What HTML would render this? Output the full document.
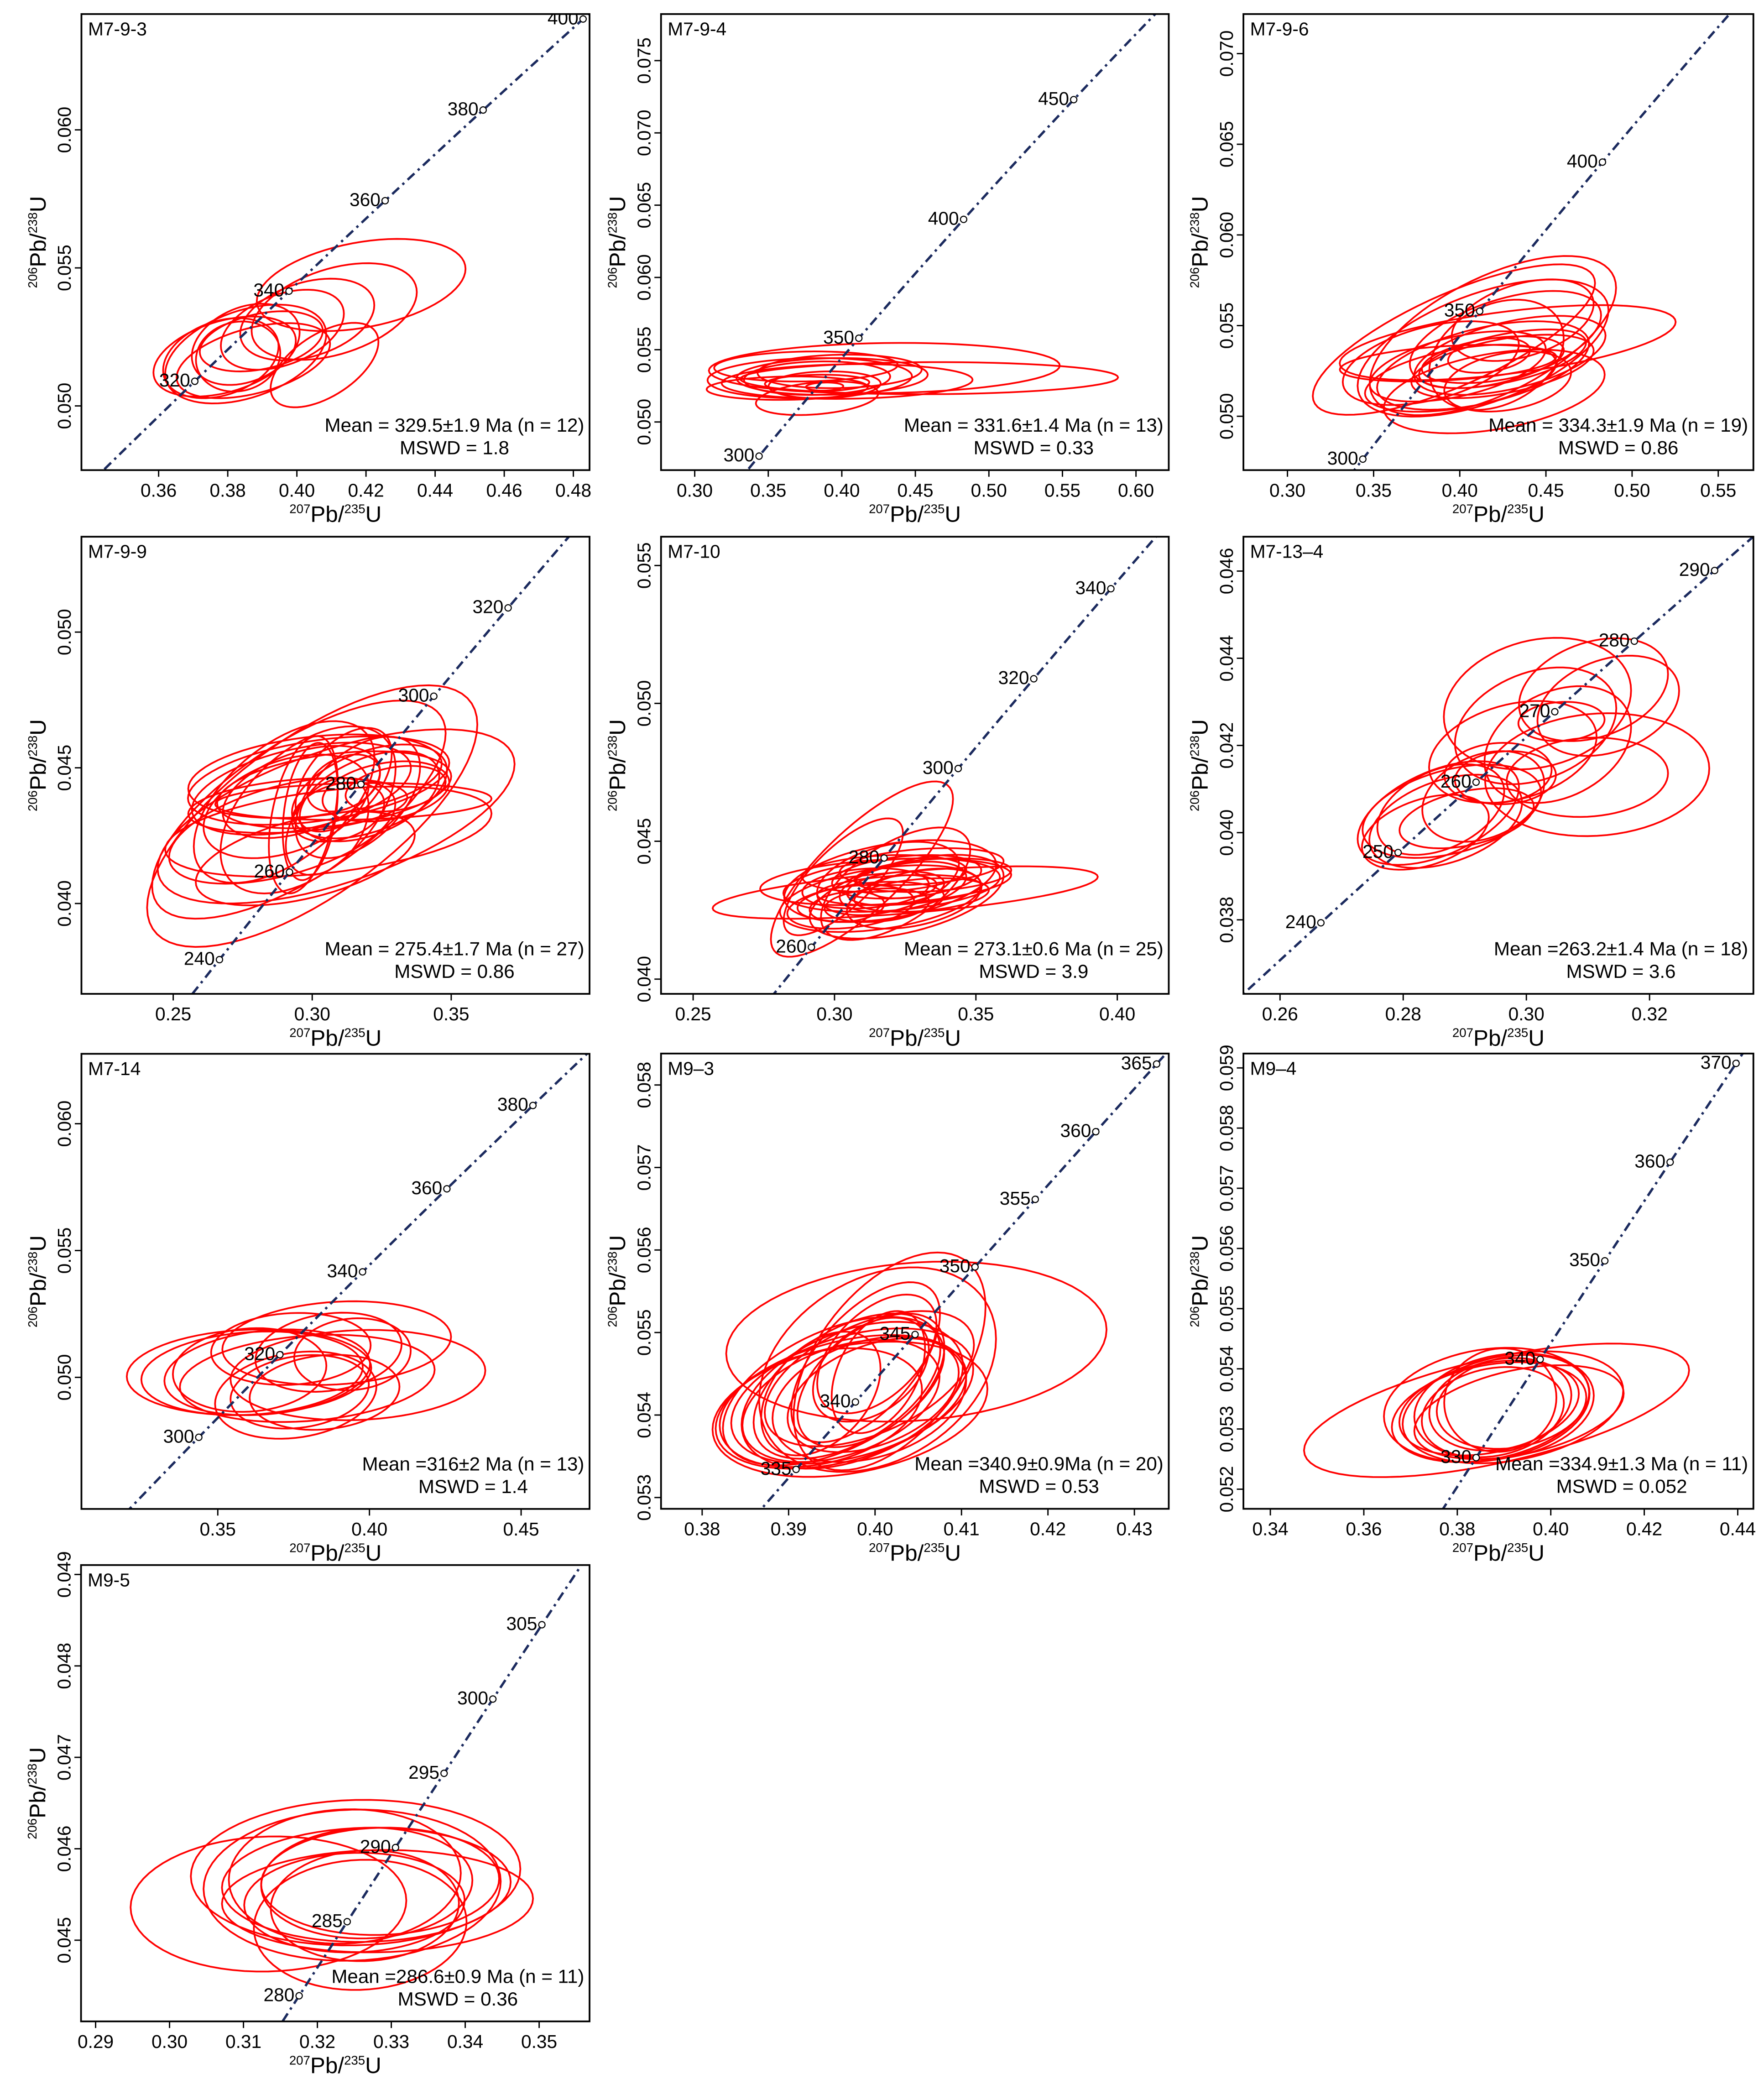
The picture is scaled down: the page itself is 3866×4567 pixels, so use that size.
<!DOCTYPE html>
<html><head><meta charset="utf-8"><title>Concordia diagrams</title>
<style>
html,body{margin:0;padding:0;background:#fff;width:3866px;height:4567px;overflow:hidden;}
svg{display:block;font-family:"Liberation Sans",Arial,sans-serif;}
</style></head>
<body>
<svg id="fig" xmlns="http://www.w3.org/2000/svg" width="3866" height="4567" viewBox="0 0 1330 1571" preserveAspectRatio="none">
<rect x="0" y="0" width="1330" height="1571" fill="#fff"/>
</svg>
<script>
// ---------- data: panel 1 (M7-9-3) ----------
const ages1=[320,340,360,380,400];
const xticks1=[0.36,0.38,0.40,0.42,0.44,0.46,0.48];
const yticks1=[0.050,0.055,0.060];
const ell1_x=[0.4186,0.4108,0.4030,0.4080,0.3958,0.3852,0.3852,0.3791,0.3780,0.3830,0.3897,0.3874];
const ell1_y=[0.05438,0.05342,0.05313,0.05148,0.05276,0.05223,0.05188,0.05179,0.05173,0.05179,0.05234,0.05164];
const ell1_sx=[0.0302,0.0239,0.0194,0.0156,0.0178,0.0156,0.0233,0.0206,0.0167,0.0122,0.0178,0.0222];
const ell1_sy=[0.00167,0.00175,0.00148,0.00153,0.00145,0.00147,0.00179,0.00145,0.00145,0.00127,0.00109,0.00136];
const ell1_r=[0.35,0.4,0.35,0.55,0.4,0.3,0.4,0.4,0.3,0.1,0.35,0.45];
// ---------- panel 2 (M7-9-4) ----------
const ages2=[300,350,400,450];
const xticks2=[0.30,0.35,0.40,0.45,0.50,0.55,0.60];
const yticks2=[0.050,0.055,0.060,0.065,0.070,0.075];
const ell2_x=[0.4594,0.4289,0.3782,0.3756,0.4036,0.3934,0.3832,0.3832,0.3883,0.3883,0.3832,0.3629,0.3985];
const ell2_y=[0.05303,0.05373,0.05303,0.05384,0.05280,0.05315,0.05164,0.05303,0.05257,0.05245,0.05269,0.05234,0.05350];
const ell2_sx=[0.1284,0.1193,0.0695,0.0624,0.0853,0.0650,0.0416,0.0497,0.0381,0.0127,0.0355,0.0548,0.0558];
const ell2_sy=[0.00111,0.00174,0.00139,0.00104,0.00120,0.00127,0.00116,0.00116,0.00093,0.00028,0.00058,0.00081,0.00116];
const ell2_r=[0.05,0.1,0.1,0.1,0.1,0.1,0.3,0.1,0.1,0.1,0.1,0.1,0.1];
// ---------- panel 3 (M7-9-6) ----------
const ages3=[300,350,400];
const xticks3=[0.30,0.35,0.40,0.45,0.50,0.55];
const yticks3=[0.050,0.055,0.060,0.065,0.070];
const ell3_x=[0.3966,0.4192,0.4278,0.4135,0.4200,0.4265,0.4192,0.4170,0.4135,0.3832,0.4291,0.4213,0.4005,0.4248,0.3932,0.4248,0.4278,0.3988,0.4365];
const ell3_y=[0.05423,0.05445,0.05406,0.05376,0.05137,0.05423,0.05312,0.05336,0.05280,0.05293,0.05336,0.05339,0.05210,0.05317,0.05293,0.05275,0.05192,0.05275,0.05530];
const ell3_sx=[0.0819,0.0715,0.0975,0.0728,0.0641,0.0555,0.0412,0.0238,0.0615,0.0511,0.0555,0.0390,0.0555,0.0485,0.0628,0.0529,0.0368,0.0511,0.0412];
const ell3_sy=[0.00415,0.00439,0.00207,0.00378,0.00231,0.00268,0.00129,0.00096,0.00244,0.00231,0.00218,0.00304,0.00185,0.00162,0.00101,0.00175,0.00166,0.00194,0.00225];
const ell3_r=[0.75,0.6,0.55,0.55,0.4,0.5,0.4,0.3,0.5,0.45,0.5,0.3,0.45,0.55,0.35,0.5,0.3,0.5,0.4];
// ---------- panel 4 (M7-9-9) ----------
const ages4=[240,260,280,300,320];
const xticks4=[0.25,0.30,0.35];
const yticks4=[0.040,0.045,0.050];
const ell4_x=[0.3000,0.2952,0.3086,0.3058,0.3023,0.2899,0.2975,0.2985,0.2968,0.2993,0.2961,0.3010,0.3079,0.3206,0.3206,0.3113,0.3113,0.3148,0.2948,0.3164,0.2906,0.2961,0.3093,0.3300,0.3265,0.3054,0.2892];
const ell4_y=[0.04322,0.04346,0.04321,0.04265,0.04453,0.04374,0.04166,0.04345,0.04327,0.04339,0.04423,0.04469,0.04419,0.04413,0.04395,0.04456,0.04444,0.04376,0.04361,0.04391,0.04358,0.04411,0.04337,0.04423,0.04413,0.04284,0.04268];
const ell4_sx=[0.0594,0.0528,0.0642,0.0587,0.0470,0.0325,0.0394,0.0315,0.0124,0.0099,0.0394,0.0456,0.0421,0.0279,0.0251,0.0173,0.0131,0.0497,0.0394,0.0224,0.0297,0.0283,0.0166,0.0180,0.0228,0.0149,0.0407];
const ell4_sy=[0.00482,0.00402,0.00321,0.00166,0.00163,0.00298,0.00173,0.00308,0.00290,0.00253,0.00170,0.00154,0.00142,0.00173,0.00166,0.00191,0.00105,0.00068,0.00101,0.00224,0.00191,0.00170,0.00109,0.00084,0.00111,0.00179,0.00195];
const ell4_r=[0.7,0.7,0.6,0.4,0.4,0.55,0.5,0.5,0.4,0.3,0.45,0.3,0.35,0.45,0.45,0.5,0.35,0.15,0.3,0.5,0.4,0.45,0.3,0.3,0.3,0.4,0.5];
// ---------- panel 5 (M7-10) ----------
const ages5=[260,280,300,320,340];
const xticks5=[0.25,0.30,0.35,0.40];
const yticks5=[0.040,0.045,0.050,0.055];
const ell5_x=[0.3097,0.3250,0.3031,0.3181,0.3216,0.3197,0.3255,0.3163,0.3189,0.3202,0.3128,0.3255,0.3110,0.3216,0.3308,0.3229,0.3057,0.3282,0.3150,0.3348,0.3176,0.3242,0.3044,0.3242,0.3308];
const ell5_y=[0.04399,0.04314,0.04371,0.04353,0.04346,0.04356,0.04299,0.04292,0.04365,0.04341,0.04280,0.04371,0.04329,0.04329,0.04408,0.04323,0.04262,0.04292,0.04268,0.04377,0.04383,0.04335,0.04262,0.04335,0.04305];
const ell5_sx=[0.0322,0.0681,0.0211,0.0444,0.0264,0.0375,0.0343,0.0356,0.0251,0.0383,0.0259,0.0264,0.0224,0.0172,0.0290,0.0290,0.0224,0.0238,0.0185,0.0277,0.0290,0.0119,0.0132,0.0224,0.0238];
const ell5_sy=[0.00318,0.00095,0.00212,0.00085,0.00204,0.00148,0.00152,0.00121,0.00133,0.00097,0.00073,0.00079,0.00073,0.00061,0.00067,0.00055,0.00079,0.00109,0.00061,0.00061,0.00067,0.00042,0.00055,0.00091,0.00061];
const ell5_r=[0.8,0.6,0.75,0.3,0.6,0.4,0.5,0.4,0.4,0.3,0.3,0.3,0.2,0.3,0.3,0.3,0.3,0.4,0.2,0.3,0.2,0.2,0.2,0.4,0.3];
// ---------- panel 6 (M7-13-4) ----------
const ages6=[240,250,260,270,280,290];
const xticks6=[0.26,0.28,0.30,0.32];
const yticks6=[0.038,0.040,0.042,0.044,0.046];
const ell6_x=[0.3018,0.3109,0.3133,0.3015,0.3051,0.3057,0.3115,0.3099,0.2978,0.2954,0.2930,0.2857,0.2879,0.2869,0.2861,0.2903,0.2836,0.2966];
const ell6_y=[0.04296,0.04328,0.04291,0.04245,0.04202,0.04255,0.04133,0.04127,0.04185,0.04137,0.04083,0.04045,0.04049,0.04026,0.04053,0.04033,0.04001,0.04126];
const ell6_sx=[0.0152,0.0121,0.0115,0.0131,0.0119,0.0070,0.0182,0.0131,0.0136,0.0087,0.0099,0.0131,0.0145,0.0124,0.0103,0.0109,0.0103,0.0082];
const ell6_sy=[0.00151,0.00118,0.00115,0.00134,0.00134,0.00045,0.00141,0.00091,0.00117,0.00069,0.00104,0.00119,0.00107,0.00107,0.00104,0.00069,0.00086,0.00061];
const ell6_r=[0.2,0.3,0.3,0.3,0.3,0.1,0.1,0.1,0.3,0.1,0.3,0.5,0.4,0.4,0.4,0.4,0.4,0.1];
// ---------- panel 7 (M7-14) ----------
const ages7=[300,320,340,360,380];
const xticks7=[0.35,0.40,0.45];
const yticks7=[0.050,0.055,0.060];
const ell7_x=[0.3603,0.3613,0.3663,0.3741,0.3892,0.3795,0.3962,0.3865,0.3944,0.3757,0.3770,0.3852,0.3605];
const ell7_y=[0.05020,0.05016,0.05020,0.05112,0.05135,0.04996,0.05009,0.05099,0.05091,0.04930,0.04943,0.04941,0.05029];
const ell7_sx=[0.0403,0.0365,0.0339,0.0263,0.0377,0.0420,0.0420,0.0241,0.0192,0.0266,0.0228,0.0247,0.0253];
const ell7_sy=[0.00169,0.00165,0.00169,0.00142,0.00165,0.00172,0.00178,0.00156,0.00142,0.00172,0.00145,0.00148,0.00165];
const ell7_r=[0.1,0.15,0.2,0.1,0.15,0.2,0.1,0.2,0.1,0.2,0.2,0.15,0.1];
// ---------- panel 8 (M9-3) ----------
const ages8=[335,340,345,350,355,360,365];
const xticks8=[0.38,0.39,0.40,0.41,0.42,0.43];
const yticks8=[0.053,0.054,0.055,0.056,0.057,0.058];
const ell8_x=[0.40478,0.40029,0.40168,0.39710,0.39606,0.39520,0.39675,0.39891,0.40021,0.39373,0.39736,0.39736,0.39373,0.39934,0.40038,0.39934,0.39978,0.39952,0.39606,0.39952];
const ell8_y=[0.05489,0.05455,0.05465,0.05407,0.05416,0.05429,0.05435,0.05464,0.05474,0.05426,0.05423,0.05424,0.05409,0.05419,0.05452,0.05444,0.05424,0.05442,0.05417,0.05455];
const ell8_sx=[0.0220,0.0137,0.0111,0.0159,0.0145,0.0128,0.0108,0.0086,0.0069,0.0069,0.0140,0.0128,0.0117,0.0112,0.0054,0.0121,0.0099,0.0085,0.0114,0.0067];
const ell8_sy=[0.00097,0.00124,0.00132,0.00082,0.00081,0.00090,0.00088,0.00097,0.00072,0.00075,0.00082,0.00089,0.00072,0.00076,0.00074,0.00082,0.00069,0.00081,0.00074,0.00063];
const ell8_r=[0.15,0.3,0.5,0.3,0.4,0.5,0.5,0.6,0.5,0.4,0.4,0.4,0.3,0.3,0.4,0.5,0.4,0.5,0.4,0.4];
// ---------- panel 9 (M9-4) ----------
const ages9=[330,340,350,360,370];
const xticks9=[0.34,0.36,0.38,0.40,0.42,0.44];
const yticks9=[0.052,0.053,0.054,0.055,0.056,0.057,0.058,0.059];
const ell9_x=[0.3884,0.3863,0.3919,0.3900,0.3868,0.3892,0.3932,0.3892,0.3868,0.3919,0.3876];
const ell9_y=[0.05331,0.05340,0.05336,0.05338,0.05328,0.05341,0.05328,0.05348,0.05335,0.05345,0.05328];
const ell9_sx=[0.0412,0.0220,0.0236,0.0192,0.0208,0.0152,0.0224,0.0120,0.0192,0.0163,0.0152];
const ell9_sy=[0.00111,0.00095,0.00093,0.00088,0.00083,0.00077,0.00078,0.00086,0.00079,0.00078,0.00075];
const ell9_r=[0.6,0.2,0.3,0.2,0.3,0.2,0.4,0.05,0.3,0.2,0.2];
// ---------- panel 10 (M9-5) ----------
const ages10=[280,285,290,295,300,305];
const xticks10=[0.29,0.30,0.31,0.32,0.33,0.34,0.35];
const yticks10=[0.045,0.046,0.047,0.048,0.049];
const ell10_x=[0.31338,0.32517,0.32470,0.32662,0.32813,0.32371,0.32501,0.32668,0.32579,0.32642,0.32849];
const ell10_y=[0.045396,0.045739,0.045602,0.045606,0.045427,0.045697,0.045411,0.045625,0.045168,0.045377,0.045644];
const ell10_sx=[0.01865,0.02229,0.02010,0.01953,0.02104,0.01569,0.01491,0.01429,0.01439,0.01273,0.01610];
const ell10_sy=[0.000739,0.000796,0.000827,0.000625,0.000560,0.000735,0.000545,0.000606,0.000712,0.000606,0.000587];
const ell10_r=[0.05,0.05,0.05,0.05,0.05,0.05,0.05,0.05,0.05,0.05,0.05];

const titles=["M7-9-3","M7-9-4","M7-9-6","M7-9-9","M7-10","M7-13\u20134","M7-14","M9\u20133","M9\u20134","M9-5"];
const means=["Mean = 329.5\u00b11.9 Ma (n = 12)","Mean = 331.6\u00b11.4 Ma (n = 13)","Mean = 334.3\u00b11.9 Ma (n = 19)","Mean = 275.4\u00b11.7 Ma (n = 27)","Mean = 273.1\u00b10.6 Ma (n = 25)","Mean =263.2\u00b11.4 Ma (n = 18)","Mean =316\u00b12 Ma (n = 13)","Mean =340.9\u00b10.9Ma (n = 20)","Mean =334.9\u00b11.3 Ma (n = 11)","Mean =286.6\u00b10.9 Ma (n = 11)"];
const mswds=["MSWD = 1.8","MSWD = 0.33","MSWD = 0.86","MSWD = 0.86","MSWD = 3.9","MSWD = 3.6","MSWD = 1.4","MSWD = 0.53","MSWD = 0.052","MSWD = 0.36"];

// ---------- layout (geometry, not data) ----------
const layout=[
 {box:[61.4,10.6,444.5,354.4],xm:[0.36,119.6,0.48,432.3],ym:[0.050,306.0,0.060,97.9]},
 {box:[498.4,10.6,881.2,354.4],xm:[0.30,523.8,0.60,856.5],ym:[0.050,318.1,0.075,45.7]},
 {box:[937.5,10.6,1322,354.4],xm:[0.30,970.7,0.55,1295.5],ym:[0.050,313.8,0.070,40.4]},
 {box:[61.4,404.6,444.5,749.2],xm:[0.25,130.6,0.35,340.2],ym:[0.040,681.1,0.050,476.5]},
 {box:[498.4,404.6,881.2,749.2],xm:[0.25,522.6,0.40,842.4],ym:[0.040,738.1,0.055,426.3]},
 {box:[937.5,404.6,1322,749.2],xm:[0.26,965.1,0.32,1243.7],ym:[0.038,693.4,0.046,430.5]},
 {box:[61.4,794.4,444.5,1137.5],xm:[0.35,164.2,0.45,392.9],ym:[0.050,1038.3,0.060,847.1]},
 {box:[498.4,794.2,881.2,1137.4],xm:[0.38,529.4,0.43,855.3],ym:[0.053,1128.9,0.058,817.9]},
 {box:[937.5,794.2,1322,1137.4],xm:[0.34,957.8,0.44,1310.2],ym:[0.052,1122.6,0.058,850.4]},
 {box:[61.1,1179.8,444.5,1523.8],xm:[0.29,72.1,0.35,406.5],ym:[0.045,1462.6,0.049,1186.9]}
];
const panelData=[
 [ages1,xticks1,yticks1,ell1_x,ell1_y,ell1_sx,ell1_sy,ell1_r],
 [ages2,xticks2,yticks2,ell2_x,ell2_y,ell2_sx,ell2_sy,ell2_r],
 [ages3,xticks3,yticks3,ell3_x,ell3_y,ell3_sx,ell3_sy,ell3_r],
 [ages4,xticks4,yticks4,ell4_x,ell4_y,ell4_sx,ell4_sy,ell4_r],
 [ages5,xticks5,yticks5,ell5_x,ell5_y,ell5_sx,ell5_sy,ell5_r],
 [ages6,xticks6,yticks6,ell6_x,ell6_y,ell6_sx,ell6_sy,ell6_r],
 [ages7,xticks7,yticks7,ell7_x,ell7_y,ell7_sx,ell7_sy,ell7_r],
 [ages8,xticks8,yticks8,ell8_x,ell8_y,ell8_sx,ell8_sy,ell8_r],
 [ages9,xticks9,yticks9,ell9_x,ell9_y,ell9_sx,ell9_sy,ell9_r],
 [ages10,xticks10,yticks10,ell10_x,ell10_y,ell10_sx,ell10_sy,ell10_r]
];

const NS="http://www.w3.org/2000/svg";
const svg=document.getElementById('fig');
const L235=9.8485e-4, L238=1.55125e-4;
function mk(tag,attrs,parent){const e=document.createElementNS(NS,tag);for(const k in attrs)e.setAttribute(k,attrs[k]);(parent||svg).appendChild(e);return e;}
function ratioLabel(parent,x,y,a,b,anchor,rot){
  const t=mk('text',{x:x,y:y,'font-size':17,'text-anchor':anchor,fill:'#000'},parent);
  if(rot)t.setAttribute('transform','rotate(-90 '+x+' '+y+')');
  const s1=mk('tspan',{'font-size':9.5,dy:-6.5},t);s1.textContent=a;
  const s2=mk('tspan',{dy:6.5},t);s2.textContent='Pb/';
  const s3=mk('tspan',{'font-size':9.5,dy:-6.5},t);s3.textContent=b;
  const s4=mk('tspan',{dy:6.5},t);s4.textContent='U';
  return t;
}

layout.forEach((P,i)=>{
  const [ages,xt,yt,ex,ey,esx,esy,er]=panelData[i];
  const [l,tp,r,b]=P.box;
  const fx=v=>P.xm[1]+(v-P.xm[0])*(P.xm[3]-P.xm[1])/(P.xm[2]-P.xm[0]);
  const fy=v=>P.ym[1]+(v-P.ym[0])*(P.ym[3]-P.ym[1])/(P.ym[2]-P.ym[0]);
  const g=mk('g',{});
  
  
  const cp=mk('clipPath',{id:'clip'+i},g);
  mk('rect',{x:l,y:tp,width:r-l,height:b-tp},cp);
  const plot=mk('g',{'clip-path':'url(#clip'+i+')'},g);
  
  
  for(let k=0;k<ex.length;k++){
    let d='';
    const rr=er[k], q=Math.sqrt(1-rr*rr);
    for(let s=0;s<=72;s++){
      const th=s/72*2*Math.PI;
      const X=ex[k]+esx[k]*Math.cos(th);
      const Y=ey[k]+esy[k]*(rr*Math.cos(th)+q*Math.sin(th));
      d+=(s?'L':'M')+fx(X).toFixed(2)+' '+fy(Y).toFixed(2);
    }
    const p=mk('path',{d:d+'Z',fill:'none',stroke:'#ff0000','stroke-width':1.3},plot);
    
    
  }
  let cd='';
  for(let t=100;t<=700;t+=2){
    const X=Math.exp(L235*t)-1, Y=Math.exp(L238*t)-1;
    cd+=(t===100?'M':'L')+fx(X).toFixed(2)+' '+fy(Y).toFixed(2);
  }
  const cc=mk('path',{d:cd,fill:'none',stroke:'#1b2a5e','stroke-width':1.8,'stroke-dasharray':'7 3.5 1.8 3.5'},plot);
  
  
  ages.forEach(a=>{
    const px=fx(Math.exp(L235*a)-1), py=fy(Math.exp(L238*a)-1);
    const c=mk('circle',{cx:px,cy:py,r:2.4,fill:'#fff',stroke:'#000','stroke-width':0.8},plot);
    
    
    const tx=mk('text',{x:px-3.5,y:py+4,'font-size':14,'text-anchor':'end',fill:'#000'},plot);
    
    
    tx.textContent=a;
  });
  const fr=mk('rect',{x:l,y:tp,width:r-l,height:b-tp,fill:'none',stroke:'#000','stroke-width':1.3},g);
  
  
  xt.forEach(v=>{
    const x=fx(v);
    const tk=mk('line',{x1:x,y1:b,x2:x,y2:b+5,stroke:'#000','stroke-width':1},g);
    
    
    const tl=mk('text',{x:x,y:b+20,'font-size':14,'text-anchor':'middle',fill:'#000'},g);
    
    
    tl.textContent=v.toFixed(2);
  });
  yt.forEach(v=>{
    const y=fy(v);
    const tk=mk('line',{x1:l,y1:y,x2:l-5,y2:y,stroke:'#000','stroke-width':1},g);
    
    
    const tx=l-8;
    const tl=mk('text',{x:tx,y:y,'font-size':14,'text-anchor':'middle',fill:'#000',transform:'rotate(-90 '+tx+' '+y+')'},g);
    
    
    tl.textContent=v.toFixed(3);
  });
  const xtitle=ratioLabel(g,(l+r)/2,b+39,'207','235','middle',false);
  
  
  const ytitle=ratioLabel(g,l-27,(tp+b)/2,'206','238','middle',true);
  
  
  const st=mk('text',{x:l+5,y:tp+16,'font-size':14,fill:'#000'},g);
  
  
  st.textContent=titles[i];
  const mt=mk('text',{x:r-4,y:b-29,'font-size':14.5,'text-anchor':'end',fill:'#000'},g);
  
  
  mt.textContent=means[i];
  let w=195;try{w=mt.getComputedTextLength();}catch(e){}
  const ms=mk('text',{x:r-4-w/2,y:b-12,'font-size':14.5,'text-anchor':'middle',fill:'#000'},g);
  
  
  ms.textContent=mswds[i];
});
</script>
</body></html>
